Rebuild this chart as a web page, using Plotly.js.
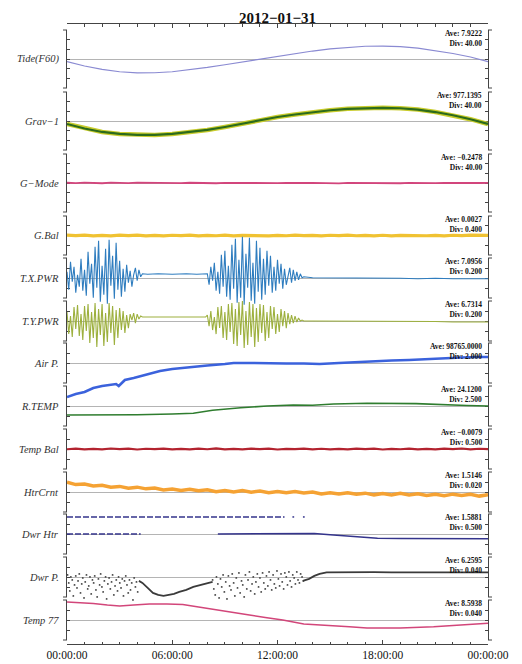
<!DOCTYPE html>
<html><head><meta charset="utf-8">
<script src="https://cdn.plot.ly/plotly-3.0.1.min.js"></script>
<style>html,body{margin:0;padding:0;background:#fff}#chart{width:522px;height:664px}</style>
</head><body><div id="chart"></div>
<script>
// ---------------- DATA ----------------
const TITLE = '2012−01−31';
const LABELS = ['Tide(F60)','Grav−1','G−Mode','G.Bal','T.X.PWR','T.Y.PWR','Air P.','R.TEMP','Temp Bal','HtrCrnt','Dwr Htr','Dwr P.','Temp 77'];
const AVE = [7.9222, 977.1395, -0.2478, 0.0027, 7.0956, 6.7314, 98765.0, 24.12, -0.0079, 1.5146, 1.5881, 6.2595, 8.5938];
const DIV = [40, 40, 40, 0.4, 0.2, 0.2, 2.0, 2.5, 0.5, 0.02, 0.5, 0.04, 0.04];
const AVE_LABELS = ['7.9222','977.1395','−0.2478','0.0027','7.0956','6.7314','98765.0000','24.1200','−0.0079','1.5146','1.5881','6.2595','8.5938'];
const DIV_LABELS = ['40.00','40.00','40.00','0.400','0.200','0.200','2.000','2.500','0.500','0.020','0.500','0.040','0.040'];
const TICK_HOURS = [0, 6, 12, 18, 24];
const TICK_LABELS = ['00:00:00','06:00:00','12:00:00','18:00:00','00:00:00'];

const T_HOUR = [0,1,2,3,4,5,6,7,8,9,10,11,12,13,14,15,16,17,18,19,20,21,22,23,24];
const T_HALF = [0,0.5,1,1.5,2,2.5,3,3.5,4,4.5,5,5.5,6,6.5,7,7.5,8,8.5,9,9.5,10,10.5,11,11.5,12,12.5,13,13.5,14,14.5,15,15.5,16,16.5,17,17.5,18,18.5,19,19.5,20,20.5,21,21.5,22,22.5,23,23.5,24];

const TIDE = [-3.2,-20.9,-35.3,-44.8,-49.8,-49.0,-44.8,-37.4,-27.1,-16.0,-4.4,7.9,19.5,30.6,40.9,49.9,56.5,60.7,61.5,59.4,53.2,42.9,30.6,16.2,-3.2];
const GRAV = [964.8,946.2,931.8,923.6,919.5,919.5,923.6,930.6,940.1,952.4,966.8,981.3,993.6,1003.9,1013.4,1021.6,1027.4,1030.7,1031.5,1029.9,1024.5,1014.2,1001.0,984.6,964.8];
const G_MODE = [0.78,-0.86,1.40,0.17,-1.28,0.99,-0.25,-1.07,1.20,0.37,-1.48,0.58,-0.04,-0.86,0.78,-0.66,0.17,-1.28,0.37,-0.25,-1.07,0.17,-1.48,-0.04,-0.66,0.37,-1.28,-0.25,0.58,-0.86,-0.04,-1.48,0.17,-0.45,-1.07,0.37,-0.66,-0.25,-1.28,0.17,-0.86,-0.04,-1.07,0.37,-0.45,-1.28,0.17,-0.25,-0.04];
const G_BAL = [0.014,-0.006,0.018,-0.010,0.008,-0.013,0.016,-0.003,0.019,-0.009,0.010,-0.012,0.012,-0.005,0.017,-0.010,0.007,-0.007,0.015,-0.014,0.010,-0.001,0.014,-0.011,0.009,-0.008,0.017,-0.005,0.006,-0.013,0.013,-0.004,0.016,-0.007,0.008,-0.010,0.012,-0.011,0.010,-0.003,0.014,-0.008,0.009,-0.013,0.012,-0.005,0.016,-0.004,0.005];

const PWR_TIME = [0.0,0.1,0.2,0.3,0.4,0.5,0.6,0.7,0.8,0.9,1.0,1.1,1.2,1.3,1.4,1.5,1.6,1.7,1.8,1.9,2.0,2.1,2.2,2.3,2.4,2.5,2.6,2.7,2.8,2.9,3.0,3.1,3.2,3.3,3.4,3.5,3.6,3.7,3.8,3.9,4.0,4.1,4.2,4.3,
  4.6,5.2,6.0,6.8,7.4,7.9,
  8.0,8.1,8.2,8.3,8.4,8.5,8.6,8.7,8.8,8.9,9.0,9.1,9.2,9.3,9.4,9.5,9.6,9.7,9.8,9.9,10.0,10.1,10.2,10.3,10.4,10.5,10.6,10.7,10.8,10.9,11.0,11.1,11.2,11.3,11.4,11.5,11.6,11.7,11.8,11.9,12.0,12.1,12.2,12.3,12.4,12.5,12.6,12.7,12.8,12.9,13.0,13.1,13.2,13.3,13.4,13.5,
  14,15,16,17,18,19,20,21,22,23,24];
const TX_PWR = [7.22,6.86,7.42,7.02,7.32,6.80,7.16,6.92,7.48,6.84,7.26,6.74,7.62,6.98,7.38,6.70,7.72,6.90,7.84,6.62,7.34,6.76,7.68,6.58,7.86,6.94,7.54,6.68,7.80,6.86,7.44,6.72,7.28,6.82,7.36,7.00,7.24,6.92,7.16,7.30,7.04,7.26,7.12,7.18,
  7.17,7.18,7.17,7.18,7.17,7.17,
  7.18,6.96,7.32,7.04,7.40,6.84,7.22,6.78,7.56,6.92,7.64,6.72,7.34,6.66,7.76,6.88,7.88,6.60,7.46,6.70,7.92,6.56,7.58,6.90,7.90,6.64,7.40,6.58,7.84,6.82,7.70,6.66,7.48,6.76,7.64,6.94,7.54,6.80,7.32,6.84,7.46,6.98,7.38,6.88,7.28,6.96,7.16,7.30,7.00,7.26,7.04,7.22,7.06,7.18,7.10,7.12,
  7.10,7.10,7.09,7.10,7.09,7.09,7.08,7.09,7.08,7.08,7.08];
const TY_PWR = [6.91,6.47,6.83,6.41,7.01,6.57,7.05,6.43,6.87,6.35,7.03,6.53,7.07,6.29,6.91,6.39,7.09,6.21,6.97,6.45,7.07,6.23,6.89,6.31,7.09,6.49,7.03,6.25,6.95,6.39,6.99,6.55,6.93,6.49,6.85,6.59,6.87,6.75,6.89,6.69,6.87,6.77,6.83,6.81,
  6.81,6.81,6.82,6.81,6.81,6.81,
  6.85,6.63,6.93,6.55,6.81,6.47,7.01,6.59,7.03,6.39,6.91,6.35,7.07,6.51,7.09,6.27,6.97,6.23,7.11,6.45,7.13,6.19,6.93,6.25,7.11,6.41,7.07,6.21,6.99,6.31,7.07,6.49,7.05,6.33,6.91,6.39,7.03,6.57,7.01,6.47,6.87,6.51,6.97,6.63,6.93,6.59,6.89,6.67,6.85,6.69,6.83,6.71,6.79,6.73,6.75,6.73,
  6.73,6.73,6.73,6.72,6.72,6.72,6.72,6.72,6.71,6.71,6.71];

const AIR_TIME = [0,0.5,1,1.5,2,2.5,2.8,2.95,3.3,3.8,4.5,5.3,6,7,8,9,9.5,10.5,11.5,12.5,13.5,14.4,15.5,16.5,17.5,18.5,19.5,20.5,21.5,22.5,23.5,24];
const AIR_P = [98758.2,98758.8,98759.2,98760.0,98760.4,98760.6,98760.8,98760.4,98761.6,98762.0,98762.6,98763.4,98763.8,98764.2,98764.5,98764.8,98765.0,98765.0,98764.9,98764.9,98764.9,98764.8,98765.0,98765.2,98765.4,98765.5,98765.6,98765.8,98765.9,98766.1,98766.2,98766.2];

const RTEMP_TIME = [0,2,4,6,7.2,8.3,9,9.9,11.4,12.9,14,15.2,17.1,19.9,22.8,24];
const R_TEMP = [21.87,21.87,21.95,22.12,22.30,23.05,23.37,23.67,24.12,24.37,24.30,24.62,24.82,24.72,24.25,24.12];

const TEMP_BAL = [-0.020,0.010,-0.030,0.002,-0.023,0.017,-0.015,0.012,-0.033,0.005,-0.018,0.014,-0.025,-0.001,-0.028,0.007,-0.020,0.019,-0.023,-0.003,-0.030,0.010,-0.018,0.012,-0.033,0.002,-0.015,0.014,-0.025,0.005,-0.023,-0.001,-0.030,0.012,-0.018,0.007,-0.033,-0.003,-0.020,0.014,-0.025,0.002,-0.028,0.007,-0.015,0.017,-0.023,0.005,-0.013];
const HTR_CRNT = [1.5341,1.5294,1.5304,1.5266,1.5280,1.5240,1.5258,1.5223,1.5243,1.5209,1.5227,1.5188,1.5206,1.5176,1.5202,1.5170,1.5189,1.5153,1.5177,1.5147,1.5174,1.5142,1.5164,1.5130,1.5158,1.5129,1.5155,1.5125,1.5147,1.5108,1.5132,1.5104,1.5132,1.5100,1.5123,1.5089,1.5117,1.5087,1.5118,1.5086,1.5110,1.5076,1.5102,1.5073,1.5103,1.5075,1.5099,1.5064,1.5092];

const DWR_HTR_HI_TIME = [0,4,8,12.4,12.5,12.85,12.95,13.0,13.45,13.55];
const DWR_HTR_HI = [2.44,2.44,2.44,2.44,null,2.44,2.44,null,2.44,2.44];
const DWR_HTR_LO1_TIME = [0,1,2,3,4.2];
const DWR_HTR_LO1 = [1.59,1.59,1.60,1.59,1.59];
const DWR_HTR_LO2_TIME = [8.6,10,12,13,13.7,14.1,15,15.8,16.8,17.7,19,20.5,22,24];
const DWR_HTR_LO2 = [1.59,1.59,1.60,1.61,1.62,1.61,1.55,1.49,1.42,1.37,1.36,1.35,1.35,1.35];

const DWR_P_DOT_TIME = [0.03,0.10,0.16,0.22,0.30,0.36,0.43,0.50,0.57,0.63,0.70,0.77,0.84,0.90,0.97,1.04,1.11,1.18,1.24,1.31,1.38,1.45,1.52,1.58,1.65,1.72,1.79,1.86,1.92,1.99,2.06,2.13,2.20,2.26,2.33,2.40,2.47,2.54,2.60,2.67,2.74,2.81,2.88,2.94,3.01,3.08,3.15,3.22,3.28,3.35,3.42,3.49,3.56,3.62,3.69,3.76,3.83,3.90,3.96,4.03,
  8.30,8.37,8.45,8.52,8.60,8.67,8.75,8.82,8.90,8.97,9.05,9.12,9.20,9.27,9.35,9.42,9.50,9.57,9.65,9.72,9.80,9.87,9.95,10.02,10.10,10.17,10.25,10.32,10.40,10.47,10.55,10.62,10.70,10.77,10.85,10.92,11.00,11.07,11.15,11.22,11.30,11.37,11.45,11.52,11.60,11.67,11.75,11.82,11.90,11.97,12.05,12.12,12.20,12.27,12.35,12.42,12.50,12.57,12.65,12.72,12.80,12.87,12.95,13.02,13.10,13.17,13.25,13.32,13.40,13.47];
const DWR_P_DOT = [6.268,6.236,6.204,6.260,6.248,6.184,6.228,6.264,6.216,6.244,6.272,6.196,6.232,6.256,6.176,6.240,6.268,6.212,6.224,6.260,6.192,6.248,6.236,6.264,6.208,6.180,6.252,6.228,6.272,6.220,6.200,6.244,6.260,6.172,6.232,6.256,6.212,6.240,6.268,6.188,6.224,6.248,6.204,6.260,6.236,6.216,6.252,6.184,6.244,6.264,6.228,6.196,6.248,6.208,6.236,6.168,6.256,6.220,6.240,6.200,
  6.248,6.212,6.188,6.260,6.232,6.176,6.252,6.220,6.268,6.200,6.240,6.172,6.264,6.224,6.208,6.272,6.236,6.184,6.256,6.216,6.276,6.196,6.244,6.228,6.180,6.268,6.212,6.248,6.280,6.204,6.232,6.260,6.192,6.240,6.272,6.220,6.256,6.200,6.276,6.236,6.212,6.264,6.224,6.280,6.248,6.208,6.268,6.232,6.216,6.284,6.252,6.224,6.272,6.240,6.212,6.276,6.260,6.228,6.280,6.244,6.220,6.268,6.256,6.232,6.280,6.248,6.236,6.272,6.260,6.244];
const DWR_P_LINE_TIME = [4.1,4.3,4.6,4.9,5.2,5.5,5.8,6.1,6.4,6.8,7.2,7.6,8.0,8.3,8.31,13.45,13.8,14.1,14.4,14.8,15.5,16.5,17.5,18.5,19.5,20.5,21.5,22.5,23.5,24];
const DWR_P_LINE = [6.244,6.236,6.216,6.196,6.188,6.184,6.188,6.192,6.200,6.208,6.220,6.228,6.236,6.240,null,6.244,6.252,6.264,6.272,6.278,6.279,6.278,6.279,6.278,6.279,6.278,6.278,6.279,6.278,6.278];

const T77_TIME = [0,0.7,1.5,2.3,3.0,3.8,4.7,5.7,6.6,7.5,8.5,9.5,10.4,11.3,12.3,13.5,14.4,15.2,16.1,17.1,19,20.9,22.5,24];
const TEMP_77 = [8.666,8.664,8.660,8.654,8.650,8.654,8.658,8.658,8.656,8.646,8.634,8.622,8.614,8.604,8.594,8.578,8.575,8.572,8.567,8.562,8.562,8.567,8.574,8.581];

// ---------------- LAYOUT ----------------
const W = 522, H = 664, ML = 67, MR = 34, MT = 24, MB = 20;
const PH = H - MT - MB, PW = W - ML - MR;
const PANEL_PX = [[30,88],[92,150],[154,212],[216,255],[258,298],[301,341],[343,383],[386,426],[429,469],[472,512],[514,554],[557,597],[600,640]];
const HALF_DIVS = [3,3,3,2,2,2,2,2,2,2,2,2,2];
const SERIF = 'Liberation Serif, Times New Roman, serif';
const AX = '#444';
const N = LABELS.length;

const layout = {
  width: W, height: H,
  margin: {l: ML, r: MR, t: MT, b: MB},
  paper_bgcolor: '#fff', plot_bgcolor: 'rgba(0,0,0,0)',
  showlegend: false,
  title: {text: TITLE, font: {family: SERIF, size: 15, color: '#111', weight: 'bold'},
          x: 0.5, xref: 'paper', xanchor: 'center', y: 1 - 17.5 / H, yref: 'container', yanchor: 'middle'},
  xaxis: {domain: [0,1], range: [0,24], anchor: 'y' + (N + 1), showline: true, linecolor: AX, linewidth: 1,
          mirror: 'ticks', ticks: 'inside', ticklen: 4, tickcolor: AX, tickmode: 'array',
          tickvals: TICK_HOURS, ticktext: TICK_LABELS, tickfont: {family: SERIF, size: 11.5, color: '#111'},
          showgrid: false, zeroline: false, fixedrange: true,
          minor: {ticks: 'inside', ticklen: 2.5, tickcolor: AX, tickmode: 'linear', tick0: 0, dtick: 1, showgrid: false}},
  shapes: [], annotations: []
};
const CAP = 4 / PW;
const dataAxis = [], frameTraces = [];
for (let i = 0; i < N; i++) {
  const [pt, pb] = PANEL_PX[i];
  const d0 = (H - MB - pb) / PH, d1 = (H - MB - pt) / PH;
  const k = HALF_DIVS[i];
  const lo = AVE[i] - k * DIV[i], hi = AVE[i] + k * DIV[i];
  const fid = i + 1, did = N + 1 + i;
  const fkey = fid === 1 ? 'yaxis' : 'yaxis' + fid;
  const fref = fid === 1 ? 'y' : 'y' + fid;
  layout[fkey] = {domain: [d0, d1], range: [lo, hi], anchor: 'x', showline: true, linecolor: AX, linewidth: 1,
    mirror: 'ticks', ticks: 'inside', ticklen: 3, tickcolor: AX, tickmode: 'array', tickvals: [AVE[i]],
    showticklabels: false, showgrid: true, gridcolor: '#b4b4b4', gridwidth: 1, zeroline: false, fixedrange: true,
    minor: {ticks: 'inside', ticklen: 3, tickcolor: AX, tickmode: 'linear', tick0: AVE[i], dtick: DIV[i], showgrid: false}};
  const upf = (hi - lo) / (d1 - d0);
  const b = lo - d0 * upf;
  layout['yaxis' + did] = {domain: [0, 1], range: [b, b + upf], anchor: 'x', visible: false, fixedrange: true};
  dataAxis.push('y' + did);
  // empty trace so that the framed panel axis exists
  frameTraces.push({type: 'scatter', mode: 'lines', x: [], y: [], xaxis: 'x', yaxis: fref, hoverinfo: 'skip'});
  // bracket caps
  for (const yy of [0, 1]) {
    layout.shapes.push({type: 'line', xref: 'paper', yref: fref + ' domain', x0: -CAP, x1: 0, y0: yy, y1: yy, line: {color: AX, width: 1}});
    layout.shapes.push({type: 'line', xref: 'paper', yref: fref + ' domain', x0: 1, x1: 1 + CAP, y0: yy, y1: yy, line: {color: AX, width: 1}});
  }
  layout.annotations.push({text: LABELS[i], xref: 'paper', x: 0, xanchor: 'right', xshift: -6,
    yref: fref + ' domain', y: 0.5, yanchor: 'middle', showarrow: false,
    font: {family: SERIF, size: 10.5, color: '#333', style: 'italic'}});
  layout.annotations.push({text: 'Ave: ' + AVE_LABELS[i] + '<br>Div: ' + DIV_LABELS[i],
    xref: 'paper', x: 1, xanchor: 'right', xshift: -5, align: 'right', borderpad: 0,
    yref: fref + ' domain', y: 1, yanchor: 'top', yshift: 2, showarrow: false,
    font: {family: SERIF, size: 7.5, color: '#111', weight: 'bold'}});
}

function line(x, y, p, color, width, dash) {
  return {type: 'scatter', mode: 'lines', x: x, y: y, xaxis: 'x', yaxis: dataAxis[p],
    line: {color: color, width: width, dash: dash || 'solid'}, connectgaps: false, hoverinfo: 'skip'};
}
const traces = frameTraces.concat([
  line(T_HOUR, TIDE, 0, '#8a8ad2', 1.2),
  line(T_HOUR, GRAV, 1, '#c9cc2c', 4.5),
  line(T_HOUR, GRAV, 1, '#2c6b1c', 2.2),
  line(T_HALF, G_MODE, 2, '#d2457c', 1.8),
  line(T_HALF, G_BAL, 3, '#f0c232', 3.2),
  line(PWR_TIME, TX_PWR, 4, '#2f7dbf', 1.1),
  line(PWR_TIME, TY_PWR, 5, '#9db03e', 1.1),
  line(AIR_TIME, AIR_P, 6, '#3b62dc', 2.6),
  line(RTEMP_TIME, R_TEMP, 7, '#2f7d2f', 1.6),
  line(T_HALF, TEMP_BAL, 8, '#b3232f', 2.2),
  line(T_HALF, HTR_CRNT, 9, '#f5a233', 3.5),
  line(DWR_HTR_HI_TIME, DWR_HTR_HI, 10, '#34348c', 1.5, '6px,2px'),
  line(DWR_HTR_LO1_TIME, DWR_HTR_LO1, 10, '#34348c', 1.5, '6px,2px'),
  line(DWR_HTR_LO2_TIME, DWR_HTR_LO2, 10, '#34348c', 1.5),
  {type: 'scatter', mode: 'markers', x: DWR_P_DOT_TIME, y: DWR_P_DOT, xaxis: 'x', yaxis: dataAxis[11],
    marker: {color: '#444', size: 1.9}, hoverinfo: 'skip'},
  line(DWR_P_LINE_TIME, DWR_P_LINE, 11, '#3a3a3a', 1.8),
  line(T77_TIME, TEMP_77, 12, '#d2467a', 1.4)
]);

Plotly.newPlot('chart', traces, layout, {displayModeBar: false, staticPlot: true});
</script>
</body></html>
